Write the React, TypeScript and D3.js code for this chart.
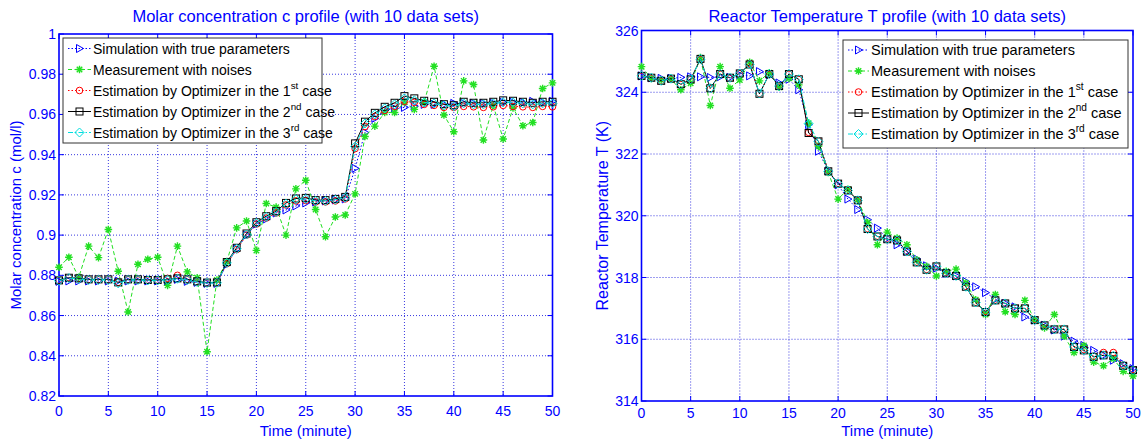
import React from "react";
import * as d3 from "d3";

// time axis (minutes), one sample per minute
const minutes = d3.range(0, 51);
const xTicks = [0, 5, 10, 15, 20, 25, 30, 35, 40, 45, 50];

const concTicks = [0.82, 0.84, 0.86, 0.88, 0.9, 0.92, 0.94, 0.96, 0.98, 1];
const concTickLabels = ["0.82", "0.84", "0.86", "0.88", "0.9", "0.92", "0.94", "0.96", "0.98", "1"];
const tempTicks = [314, 316, 318, 320, 322, 324, 326];
const tempTickLabels = ["314", "316", "318", "320", "322", "324", "326"];

// molar concentration c (mol/l)
const concSim = [
  0.877, 0.8772, 0.8772, 0.8772, 0.8772, 0.8772, 0.8772, 0.8772, 0.8772, 0.8772,
  0.8772, 0.8772, 0.878, 0.877, 0.8765, 0.876, 0.876, 0.8855, 0.893, 0.9, 0.9055,
  0.908, 0.911, 0.9125, 0.9145, 0.916, 0.9165, 0.917, 0.9175, 0.918, 0.9332,
  0.951, 0.958, 0.962, 0.963, 0.9635, 0.964, 0.965, 0.965, 0.965, 0.9655, 0.9655,
  0.9655, 0.9655, 0.9655, 0.966, 0.966, 0.966, 0.9665, 0.966, 0.9665,
];
const concMeas = [
  0.884, 0.889, 0.879, 0.8945, 0.8888, 0.9028, 0.882, 0.8618, 0.8855, 0.888, 0.889,
  0.875, 0.8945, 0.8817, 0.8788, 0.842, 0.8777, 0.8868, 0.9036, 0.907, 0.8924,
  0.9157, 0.9139, 0.9, 0.923, 0.9273, 0.9127, 0.8992, 0.909, 0.91, 0.9205, 0.949,
  0.9542, 0.961, 0.961, 0.966, 0.9625, 0.966, 0.984, 0.9597, 0.9514, 0.9767,
  0.9749, 0.9473, 0.9645, 0.9478, 0.9632, 0.9544, 0.956, 0.9729, 0.9757,
];
const concEst1 = [
  0.8775, 0.8788, 0.8783, 0.8778, 0.8778, 0.8778, 0.8765, 0.8778, 0.8777, 0.8776,
  0.8776, 0.8785, 0.88, 0.8778, 0.8768, 0.8762, 0.8763, 0.8858, 0.8928, 0.9, 0.9055,
  0.9085, 0.911, 0.915, 0.917, 0.9172, 0.9165, 0.9165, 0.917, 0.918, 0.943, 0.954,
  0.959, 0.962, 0.964, 0.9665, 0.966, 0.965, 0.9645, 0.9635, 0.9635, 0.964, 0.9638,
  0.9635, 0.9638, 0.9645, 0.964, 0.9638, 0.9635, 0.964, 0.9638,
];
const concEst2 = [
  0.8775, 0.8788, 0.8785, 0.878, 0.878, 0.878, 0.8765, 0.878, 0.878, 0.8777, 0.8777,
  0.878, 0.8785, 0.878, 0.877, 0.8764, 0.8765, 0.8866, 0.8937, 0.9008, 0.9064,
  0.9094, 0.9119, 0.916, 0.9182, 0.9185, 0.9174, 0.9174, 0.918, 0.919, 0.9456,
  0.9564, 0.9608, 0.9638, 0.9658, 0.9691, 0.968, 0.9668, 0.9663, 0.9651, 0.9646,
  0.9663, 0.9658, 0.9658, 0.9663, 0.967, 0.9668, 0.9663, 0.9658, 0.9663, 0.9663,
];
const concEst3 = [
  0.8773, 0.8786, 0.8782, 0.8777, 0.8777, 0.8777, 0.876, 0.8777, 0.8777, 0.8775,
  0.8775, 0.8778, 0.8783, 0.8777, 0.8767, 0.8762, 0.8763, 0.8862, 0.8932, 0.9003,
  0.906, 0.909, 0.9115, 0.9156, 0.9178, 0.918, 0.917, 0.917, 0.9176, 0.9186, 0.944,
  0.9555, 0.96, 0.963, 0.965, 0.968, 0.967, 0.966, 0.9655, 0.9645, 0.964, 0.9655,
  0.965, 0.965, 0.9655, 0.966, 0.966, 0.9655, 0.965, 0.9655, 0.9655,
];

// reactor temperature T (K)
const tempSim = [
  324.53, 324.47, 324.45, 324.45, 324.48, 324.5, 324.5, 324.48, 324.5, 324.48,
  324.56, 324.53, 324.67, 324.56, 324.3, 324.42, 324.08, 322.95, 322.09, 321.45,
  321.0, 320.54, 320.2, 319.87, 319.6, 319.27, 319.06, 318.85, 318.6, 318.38,
  318.3, 318.14, 318.05, 317.87, 317.7, 317.51, 317.3, 317.16, 317.05, 316.72,
  316.62, 316.45, 316.3, 316.1, 315.94, 315.8, 315.64, 315.48, 315.32, 315.21, 315.05,
];
const tempMeas = [
  324.83, 324.45, 324.4, 324.42, 324.08, 324.29, 325.12, 323.57, 324.83, 324.13,
  324.4, 324.97, 324.37, 324.63, 324.16, 324.45, 324.24, 323.0, 322.25, 321.4,
  320.54, 320.86, 320.52, 319.78, 319.06, 319.47, 319.28, 319.06, 318.57, 318.36,
  318.05, 318.2, 318.27, 317.82, 317.28, 316.8, 317.45, 316.89, 316.8, 317.26,
  316.62, 316.37, 316.8, 316.1, 315.57, 315.8, 315.26, 315.14, 315.37, 314.96, 314.81,
];
const tempEst1 = [
  324.52, 324.46, 324.36, 324.43, 324.25, 324.41, 325.06, 324.12, 324.58, 324.46,
  324.6, 324.93, 323.96, 324.58, 324.2, 324.58, 324.41, 322.7, 322.42, 321.45,
  321.05, 320.82, 320.5, 319.58, 319.34, 319.25, 319.2, 318.85, 318.5, 318.26,
  318.37, 318.15, 318.06, 317.71, 317.2, 316.9, 317.27, 317.17, 317.01, 317.01,
  316.63, 316.46, 316.33, 316.33, 315.77, 315.66, 315.45, 315.57, 315.57, 315.16, 315.02,
];
const tempEst2 = [
  324.53, 324.47, 324.37, 324.44, 324.26, 324.42, 325.08, 324.13, 324.59, 324.47,
  324.61, 324.9, 323.95, 324.59, 324.2, 324.59, 324.42, 322.68, 322.41, 321.44,
  321.04, 320.82, 320.5, 319.57, 319.33, 319.24, 319.2, 318.84, 318.49, 318.25,
  318.36, 318.14, 318.05, 317.7, 317.19, 316.88, 317.26, 317.16, 317.0, 317.0,
  316.62, 316.45, 316.32, 316.32, 315.75, 315.64, 315.43, 315.48, 315.46, 315.14, 315.0,
];
const tempEst3 = [
  324.53, 324.47, 324.37, 324.44, 324.26, 324.42, 325.07, 324.13, 324.59, 324.47,
  324.61, 324.9, 323.96, 324.59, 324.2, 324.59, 324.42, 322.98, 322.4, 321.44,
  321.04, 320.82, 320.5, 319.57, 319.33, 319.24, 319.2, 318.84, 318.49, 318.25,
  318.36, 318.14, 318.05, 317.7, 317.19, 316.88, 317.26, 317.16, 317.0, 317.0,
  316.62, 316.45, 316.32, 316.32, 315.75, 315.64, 315.43, 315.48, 315.46, 315.14, 315.0,
];

const legendLabels = [
  "Simulation with true parameters",
  "Measurement with noises",
  "Estimation by Optimizer in the ",
  "Estimation by Optimizer in the ",
  "Estimation by Optimizer in the ",
];
const legendOrdinals = ["", "", "1|st", "2|nd", "3|rd"];

const styles = [
  { color: "#0000ff", dash: "1.5 2", marker: "tri" },
  { color: "#22e022", dash: "4 2.5", marker: "star" },
  { color: "#ff0000", dash: "1.5 2", marker: "circle" },
  { color: "#000000", dash: null, marker: "square" },
  { color: "#00dede", dash: "5 2 1.5 2", marker: "diamond" },
];

const blue = "#0000ff";
const font = "Arial, 'Liberation Sans', sans-serif";

function Marker({ kind, x, y, color }) {
  if (kind === "tri")
    return <polygon points={`${x + 4},${y} ${x - 3},${y - 4} ${x - 3},${y + 4}`} fill="none" stroke={color} strokeWidth={1} />;
  if (kind === "circle") return <circle cx={x} cy={y} r={3.3} fill="none" stroke={color} strokeWidth={1} />;
  if (kind === "square") return <rect x={x - 3.5} y={y - 3.5} width={7} height={7} fill="none" stroke={color} strokeWidth={1} />;
  if (kind === "diamond")
    return <polygon points={`${x},${y - 4.5} ${x + 4.5},${y} ${x},${y + 4.5} ${x - 4.5},${y}`} fill="none" stroke={color} strokeWidth={1} />;
  // asterisk
  const r = 3.8;
  const d = r * 0.72;
  return (
    <path
      d={`M${x - r},${y}H${x + r}M${x},${y - r}V${y + r}M${x - d},${y - d}L${x + d},${y + d}M${x - d},${y + d}L${x + d},${y - d}`}
      stroke={color}
      strokeWidth={1.4}
    />
  );
}

function Panel({ box, title, titleSize, yLabel, yLabelX, yLabelSize, tickBase, yDomain, yTicks, yTickLabels, series, legend }) {
  const x = d3.scaleLinear().domain([0, 50]).range([box.left, box.right]);
  const y = d3.scaleLinear().domain(yDomain).range([box.bottom, box.top]);
  const line = d3.line<number>().x((_, i) => x(minutes[i])).y((v) => y(v));
  const cx = (box.left + box.right) / 2;
  const tk = 5;

  return (
    <g fontFamily={font}>
      <text x={cx} y={22} textAnchor="middle" fontSize={titleSize} fill={blue}>{title}</text>
      {/* grid */}
      {xTicks.slice(1, -1).map((t) => (
        <line key={"gx" + t} x1={x(t)} x2={x(t)} y1={box.top} y2={box.bottom} stroke="#3a3ae0" strokeWidth={1} strokeDasharray="1 2" />
      ))}
      {yTicks.slice(1, -1).map((t) => (
        <line key={"gy" + t} x1={box.left} x2={box.right} y1={y(t)} y2={y(t)} stroke="#3a3ae0" strokeWidth={1} strokeDasharray="1 2" />
      ))}
      {/* ticks inside, all four sides */}
      {xTicks.map((t) => (
        <g key={"tx" + t} stroke={blue} strokeWidth={1}>
          <line x1={x(t)} x2={x(t)} y1={box.bottom} y2={box.bottom - tk} />
          <line x1={x(t)} x2={x(t)} y1={box.top} y2={box.top + tk} />
        </g>
      ))}
      {yTicks.map((t) => (
        <g key={"ty" + t} stroke={blue} strokeWidth={1}>
          <line x1={box.left} x2={box.left + tk} y1={y(t)} y2={y(t)} />
          <line x1={box.right} x2={box.right - tk} y1={y(t)} y2={y(t)} />
        </g>
      ))}
      <rect x={box.left} y={box.top} width={box.right - box.left} height={box.bottom - box.top} fill="none" stroke={blue} strokeWidth={1.6} />
      {xTicks.map((t) => (
        <text key={"lx" + t} x={x(t)} y={tickBase} textAnchor="middle" fontSize={14} fill={blue}>{t}</text>
      ))}
      {yTicks.map((t, i) => (
        <text key={"ly" + t} x={box.left - 3} y={y(t) + 5} textAnchor="end" fontSize={14} fill={blue}>{yTickLabels[i]}</text>
      ))}
      <text x={cx} y={436} textAnchor="middle" fontSize={15} fill={blue}>Time (minute)</text>
      <text transform={`translate(${yLabelX},${(box.top + box.bottom) / 2}) rotate(-90)`} textAnchor="middle" fontSize={yLabelSize} fill={blue}>{yLabel}</text>
      {/* series */}
      {series.map((vals, k) => (
        <g key={"s" + k}>
          <path d={line(vals) || ""} fill="none" stroke={styles[k].color} strokeWidth={1} strokeDasharray={styles[k].dash || undefined} />
          {vals.map((v, i) => (
            <Marker key={i} kind={styles[k].marker} x={x(minutes[i])} y={y(v)} color={styles[k].color} />
          ))}
        </g>
      ))}
      {/* legend */}
      <rect x={legend.x} y={legend.y} width={legend.w} height={legend.h} fill="#fff" stroke="#333" strokeWidth={1} />
      {legendLabels.map((lab, k) => {
        const ry = legend.y + legend.first + k * legend.step;
        const [num, sup] = legendOrdinals[k].split("|");
        return (
          <g key={"lg" + k}>
            <line x1={legend.x + 5} x2={legend.x + legend.tx - 2} y1={ry} y2={ry} stroke={styles[k].color} strokeWidth={1} strokeDasharray={styles[k].dash || undefined} />
            <Marker kind={styles[k].marker} x={legend.x + (legend.tx + 3) / 2} y={ry} color={styles[k].color} />
            <text x={legend.x + legend.tx} y={ry + 5} fontSize={legend.fs} fill="#000">
              {lab}
              {num ? (
                <>
                  {num}
                  <tspan dy={-7} fontSize={legend.fs * 0.7}>{sup}</tspan>
                  <tspan dy={7}> case</tspan>
                </>
              ) : null}
            </text>
          </g>
        );
      })}
    </g>
  );
}

export default function App() {
  return (
    <svg width={1145} height={441} style={{ position: "absolute", left: 0, top: 0, background: "#fff" }}>
      <Panel
        box={{ left: 59, right: 552.5, top: 34, bottom: 396 }}
        title="Molar concentration c profile (with 10 data sets)"
        titleSize={16.5}
        yLabel="Molar concentration c (mol/l)"
        yLabelX={21}
        yLabelSize={15}
        tickBase={416}
        yDomain={[0.82, 1]}
        yTicks={concTicks}
        yTickLabels={concTickLabels}
        series={[concSim, concMeas, concEst1, concEst2, concEst3]}
        legend={{ x: 63, y: 38, w: 259, h: 105, first: 10.5, step: 21, fs: 14, tx: 30 }}
      />
      <Panel
        box={{ left: 641.5, right: 1133, top: 30.5, bottom: 401 }}
        title="Reactor Temperature T profile (with 10 data sets)"
        titleSize={16.5}
        yLabel="Reactor Temperature T (K)"
        yLabelX={608}
        yLabelSize={16}
        tickBase={418}
        yDomain={[314, 326]}
        yTicks={tempTicks}
        yTickLabels={tempTickLabels}
        series={[tempSim, tempMeas, tempEst1, tempEst2, tempEst3]}
        legend={{ x: 843, y: 40, w: 285, h: 108, first: 10, step: 21, fs: 14.5, tx: 28 }}
      />
    </svg>
  );
}
